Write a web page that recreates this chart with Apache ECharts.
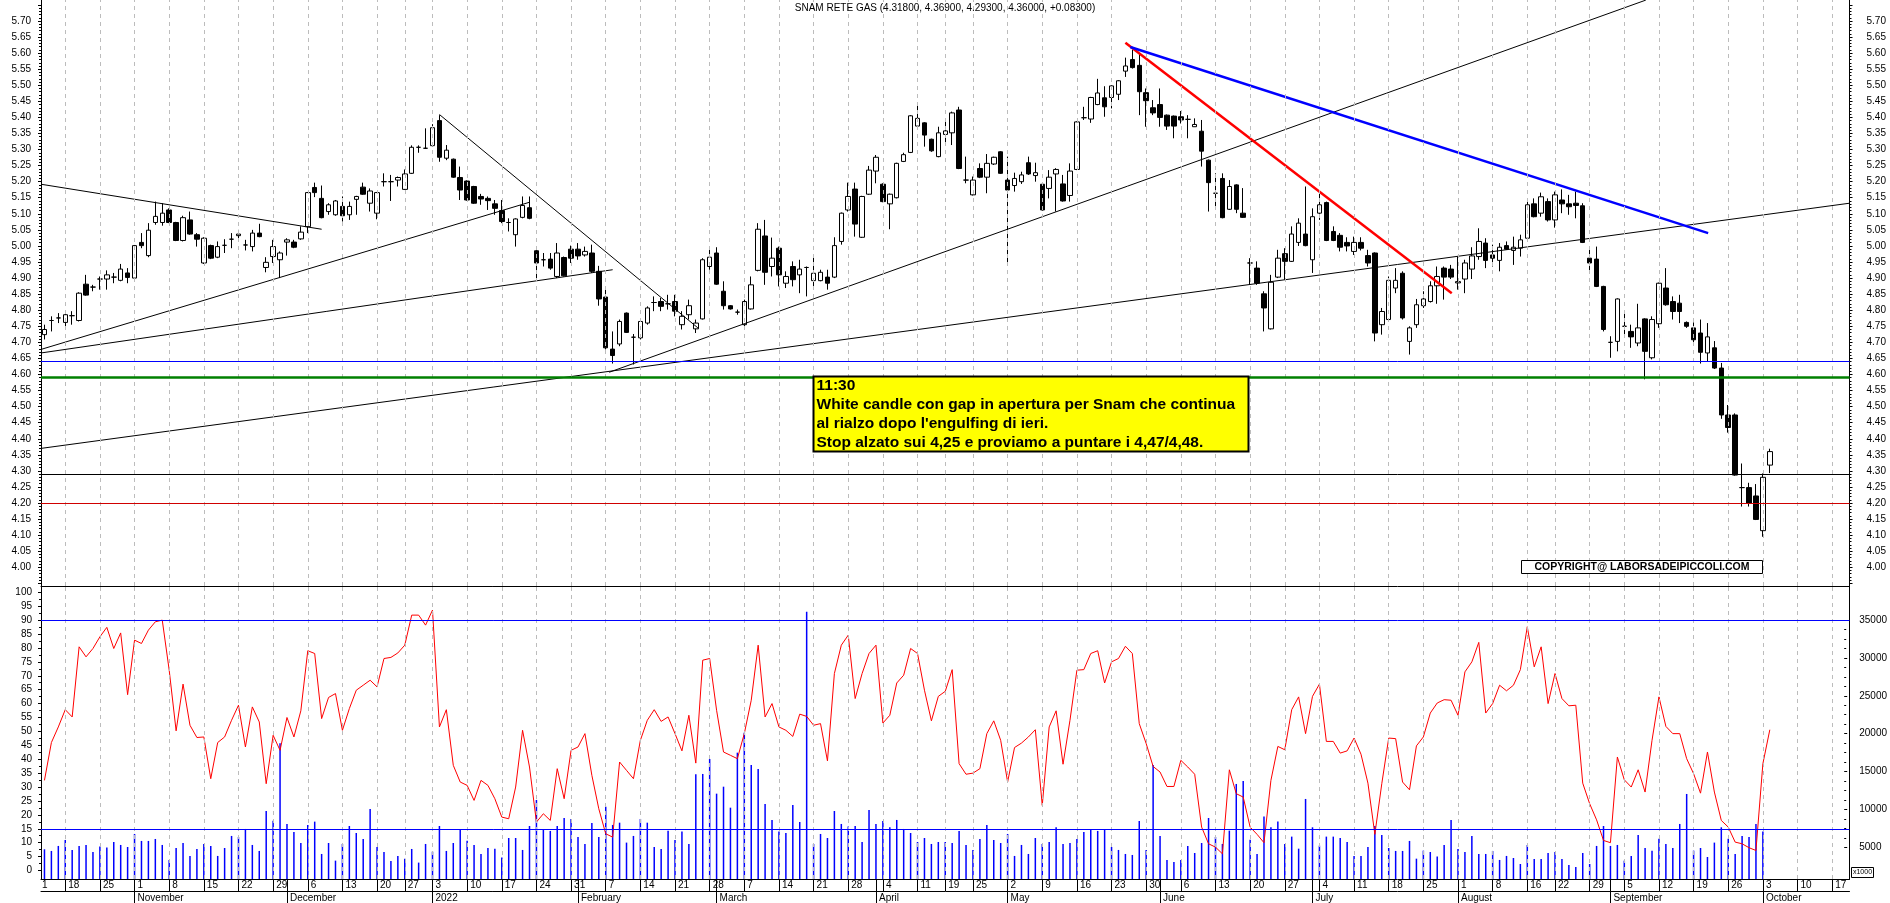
<!DOCTYPE html>
<html>
<head>
<meta charset="utf-8">
<script src="https://cdn.jsdelivr.net/npm/echarts@6.0.0/dist/echarts.min.js"></script>
<style>
html,body{margin:0;padding:0;background:#ffffff;}
#chart{width:1890px;height:903px;}
</style>
</head>
<body>
<div id="chart"></div>
<script>
// ================= DATA =================
const firstSession = '2021-10-13';
const marketHolidays = ['2021-12-24', '2021-12-31', '2022-04-15', '2022-04-18', '2022-08-15'];
const sessionCount = 250;
const blankSessions = 11;
const monthNames = ['January','February','March','April','May','June','July','August','September','October','November','December'];

const openP = [
4.724,4.768,4.776,4.762,4.783,4.768,4.881,4.872,4.897,4.897,
4.903,4.893,4.916,4.900,5.011,4.970,5.073,5.073,5.112,5.073,
5.017,5.081,5.035,4.947,5.001,4.965,5.002,5.021,5.032,5.003,
4.998,5.040,4.933,4.967,4.957,5.012,5.012,5.022,5.060,5.182,
5.148,5.107,5.097,5.123,5.097,5.145,5.183,5.133,5.102,5.200,
5.200,5.205,5.176,5.226,5.307,5.304,5.312,5.390,5.273,5.270,
5.213,5.202,5.185,5.154,5.148,5.131,5.110,5.073,5.035,5.089,
5.119,4.985,4.957,4.959,4.905,4.964,4.990,4.990,4.972,4.978,
4.921,4.841,4.679,4.695,4.791,4.716,4.714,4.760,4.824,4.827,
4.820,4.827,4.755,4.786,4.742,4.773,4.936,4.978,4.859,4.814,
4.794,4.755,4.804,4.924,5.031,4.936,4.993,4.884,4.936,4.910,
4.933,4.892,4.892,4.903,4.903,5.014,5.112,5.177,5.027,5.161,
5.233,5.192,5.131,5.150,5.263,5.291,5.373,5.383,5.332,5.278,
5.347,5.352,5.423,5.205,5.159,5.241,5.214,5.255,5.293,5.205,
5.188,5.200,5.259,5.219,5.192,5.179,5.224,5.193,5.157,5.238,
5.399,5.395,5.440,5.461,5.462,5.472,5.544,5.580,5.562,5.477,
5.430,5.440,5.407,5.404,5.402,5.394,5.371,5.357,5.267,5.164,
5.210,5.114,5.190,5.102,4.947,4.931,4.851,4.742,4.903,4.976,
4.952,5.011,5.037,4.957,5.102,5.135,5.045,5.033,5.011,4.983,
5.011,4.970,4.978,4.755,4.771,4.869,4.915,4.703,4.755,4.814,
4.827,4.876,4.931,4.928,4.885,4.897,4.928,4.967,5.009,4.972,
4.955,5.001,4.986,4.993,5.024,5.131,5.102,5.138,5.081,5.143,
5.131,5.133,5.125,4.962,4.959,4.874,4.700,4.703,4.750,4.734,
4.698,4.773,4.652,4.758,4.869,4.827,4.822,4.762,4.745,4.729,
4.667,4.683,4.620,4.474,4.474,4.248,4.248,4.222,4.114,4.318];

const closeP = [
4.740,4.768,4.776,4.786,4.783,4.853,4.847,4.872,4.897,4.910,
4.903,4.928,4.902,5.001,5.001,5.049,5.092,5.102,5.073,5.017,
5.088,5.037,5.021,5.024,4.962,4.998,5.002,5.021,5.037,5.003,
5.040,5.029,4.949,4.998,4.978,5.019,4.996,5.043,5.166,5.166,
5.088,5.128,5.140,5.094,5.123,5.154,5.161,5.171,5.166,5.200,
5.200,5.213,5.224,5.307,5.307,5.304,5.368,5.276,5.298,5.214,
5.174,5.143,5.133,5.146,5.141,5.117,5.076,5.073,5.084,5.126,
5.086,4.947,4.957,4.931,4.978,4.907,4.962,4.969,4.983,4.921,
4.835,4.683,4.659,4.765,4.731,4.716,4.765,4.807,4.824,4.812,
4.820,4.797,4.781,4.814,4.760,4.957,4.965,4.881,4.814,4.804,
4.794,4.827,4.879,5.052,4.918,4.962,4.910,4.905,4.895,4.928,
4.933,4.915,4.918,4.884,5.001,5.102,5.154,5.068,5.154,5.236,
5.276,5.138,5.161,5.257,5.284,5.405,5.397,5.345,5.296,5.352,
5.358,5.414,5.241,5.205,5.205,5.214,5.257,5.276,5.226,5.174,
5.210,5.221,5.224,5.228,5.112,5.214,5.238,5.140,5.233,5.386,
5.399,5.462,5.476,5.433,5.498,5.514,5.560,5.555,5.480,5.452,
5.414,5.400,5.373,5.373,5.392,5.394,5.378,5.295,5.197,5.164,
5.088,5.185,5.114,5.089,4.947,4.884,4.807,4.887,4.962,4.952,
5.037,5.071,5.001,5.091,5.128,5.017,5.017,4.996,5.000,5.011,
4.993,4.947,4.729,4.796,4.893,4.893,4.776,4.745,4.817,4.835,
4.876,4.905,4.903,4.903,4.889,4.947,4.969,5.014,4.955,4.962,
4.996,4.990,4.996,5.019,5.128,5.091,5.153,5.081,5.159,5.131,
5.122,5.126,5.011,4.947,4.874,4.740,4.700,4.835,4.750,4.717,
4.745,4.672,4.771,4.884,4.817,4.796,4.796,4.750,4.708,4.669,
4.717,4.620,4.474,4.435,4.287,4.248,4.199,4.149,4.280,4.360];

const lowP = [
4.709,4.734,4.760,4.750,4.755,4.765,4.845,4.859,4.864,4.864,
4.884,4.890,4.884,4.895,4.993,4.965,5.066,5.063,5.071,5.015,
5.014,5.035,4.998,4.944,4.959,4.962,4.978,4.993,5.019,4.986,
4.983,5.027,4.918,4.947,4.900,4.970,4.993,5.019,5.040,5.152,
5.086,5.097,5.094,5.076,5.081,5.097,5.159,5.107,5.083,5.185,
5.140,5.185,5.174,5.224,5.290,5.302,5.310,5.262,5.267,5.212,
5.143,5.141,5.131,5.128,5.112,5.097,5.071,5.045,4.998,5.086,
5.083,4.890,4.936,4.926,4.900,4.905,4.947,4.957,4.967,4.916,
4.814,4.678,4.634,4.688,4.729,4.631,4.709,4.755,4.797,4.797,
4.802,4.781,4.740,4.771,4.729,4.771,4.926,4.879,4.802,4.802,
4.786,4.750,4.802,4.921,4.879,4.905,4.874,4.869,4.874,4.853,
4.843,4.874,4.890,4.864,4.900,5.004,5.107,5.029,5.025,5.159,
5.195,5.136,5.052,5.148,5.261,5.289,5.371,5.309,5.293,5.276,
5.314,5.314,5.239,5.195,5.157,5.211,5.164,5.252,5.224,4.950,
5.169,5.193,5.221,5.200,5.110,5.148,5.107,5.138,5.138,5.236,
5.392,5.383,5.438,5.402,5.428,5.454,5.526,5.552,5.407,5.371,
5.407,5.371,5.361,5.335,5.381,5.335,5.371,5.247,5.107,5.112,
5.086,5.112,5.102,5.087,4.879,4.879,4.734,4.740,4.900,4.895,
4.950,5.000,4.999,4.916,5.081,5.015,5.015,4.983,4.983,4.972,
4.986,4.936,4.703,4.724,4.769,4.853,4.771,4.662,4.745,4.807,
4.824,4.820,4.833,4.897,4.864,4.853,4.897,4.957,4.931,4.936,
4.921,4.988,4.941,4.967,5.022,5.089,5.091,5.076,5.057,5.102,
5.097,5.086,5.009,4.924,4.872,4.734,4.652,4.672,4.724,4.683,
4.688,4.585,4.647,4.745,4.814,4.771,4.760,4.745,4.693,4.634,
4.641,4.617,4.462,4.419,4.285,4.189,4.189,4.147,4.095,4.293];

const highP = [
4.755,4.781,4.791,4.800,4.797,4.856,4.910,4.879,4.905,4.924,
4.916,4.944,4.931,5.003,5.040,5.071,5.138,5.133,5.117,5.075,
5.094,5.107,5.040,5.027,5.004,5.014,5.021,5.040,5.050,5.019,
5.050,5.069,4.965,5.019,4.983,5.024,5.019,5.061,5.168,5.197,
5.188,5.133,5.143,5.154,5.138,5.156,5.197,5.179,5.168,5.226,
5.221,5.216,5.238,5.313,5.313,5.366,5.379,5.407,5.314,5.272,
5.247,5.204,5.187,5.162,5.154,5.143,5.143,5.086,5.086,5.154,
5.154,4.998,4.978,4.978,5.009,4.967,5.001,5.009,4.998,5.004,
4.938,4.869,4.734,4.771,4.793,4.726,4.771,4.812,4.843,4.838,
4.848,4.848,4.797,4.833,4.771,4.962,4.993,4.996,4.890,4.816,
4.802,4.833,4.905,5.071,5.081,5.026,4.998,4.921,4.952,4.957,
4.936,4.973,4.926,4.926,5.027,5.104,5.197,5.197,5.156,5.249,
5.283,5.195,5.163,5.259,5.290,5.407,5.441,5.385,5.334,5.371,
5.392,5.418,5.433,5.278,5.216,5.257,5.286,5.278,5.295,5.278,
5.228,5.231,5.278,5.259,5.194,5.236,5.242,5.221,5.257,5.388,
5.433,5.464,5.520,5.497,5.500,5.516,5.586,5.611,5.599,5.490,
5.454,5.490,5.409,5.406,5.420,5.407,5.397,5.392,5.269,5.226,
5.226,5.205,5.192,5.180,4.962,4.952,4.859,4.910,4.988,4.993,
5.061,5.086,5.185,5.117,5.169,5.138,5.061,5.040,5.027,5.029,
5.027,4.988,4.980,4.807,4.905,4.931,4.921,4.750,4.835,4.859,
4.890,4.936,4.936,4.941,4.967,4.957,4.996,5.055,5.024,5.004,
5.009,5.014,5.029,5.035,5.138,5.148,5.166,5.148,5.169,5.176,
5.159,5.169,5.133,4.993,4.998,4.876,4.719,4.837,4.791,4.755,
4.820,4.775,4.781,4.886,4.931,4.843,4.848,4.765,4.762,4.771,
4.760,4.704,4.636,4.505,4.479,4.323,4.263,4.259,4.292,4.369];

const oscillator = [
32.4,46,51.6,57.8,55.2,80.4,76.8,79.8,84,87.4,
79.8,85.4,63.2,82.8,81.6,86.4,89.4,90,72,50.2,
67,52.2,47.8,48,33,46,48,54,59.4,44.4,
58.8,53.4,31.2,48.6,43.2,55,48,57.4,79,78,
54.6,62.2,63.6,50.4,58.2,64.8,66.6,68.4,66,76.2,
76.6,78.2,81,91.8,91.8,88.2,93.6,51.6,57.8,37.8,
31.8,30.6,25.2,32.4,30.6,25.8,19.2,18.6,30,50.4,
37.2,17.4,20.4,18,36.6,25.8,43.2,44.4,49.2,34.2,
22.2,13.2,12,39,36,33,46.8,54,57.8,53.6,
55.2,49.2,43,55.8,38.6,75.6,76.2,57.6,42.6,41.4,
40.2,49.2,61.2,81,55.2,60,51.6,50.4,48.2,56.2,
55.4,52.2,52.8,39.4,70.8,81,84.6,61.8,70.8,78,
81,53,55.8,67.4,70.2,79.8,78,64.8,53.8,62.6,
64.4,72.2,38.4,34.6,35,36.6,49.2,53.8,46.8,31.8,
44.2,45.8,48,50.6,23.4,51.6,57.4,38.2,54,72,
72.2,78,79,67.4,75,76.2,80.6,78,52.8,45.6,
37.4,35.4,30.2,30.2,39.6,37.2,34.6,15.6,9.6,8.4,
6,36.2,27.6,26.4,15.6,13,10,32.4,44.6,43.4,
57.8,62.4,49.2,62.6,67,46.4,46.4,42.2,43,47.6,
41.8,31.4,13,31.2,47.6,47.4,31.8,29,44.8,48,
56.6,60.2,61.4,61.2,55.8,71.4,75,82,56.6,60,
66.6,64.6,66.6,72.2,87.6,73.2,80.4,60,70.8,61.8,
59.2,59.4,31.4,24,18.2,10.8,10,40.8,32.6,30,
36.2,28.2,46.8,62.4,51.8,49.2,49.2,40.2,34.8,27.8,
42.6,28.2,18,15.6,10.2,9.6,8.2,7.2,38.4,50.6];

const volume = [
4740,4520,5180,5970,4650,5180,5310,4380,5090,4960,
5700,5310,5040,6760,5840,5840,6100,5310,3330,4910,
5570,3860,4780,5440,5180,3860,4910,6500,6360,7420,
5310,4520,9790,8520,18720,8080,7020,5570,7950,8390,
4120,5570,3240,5440,7810,6890,6100,10060,5040,4380,
3200,3860,3500,4780,2980,5440,4420,7810,4520,5570,
7290,5880,5310,4120,4910,4820,3640,6230,6230,4650,
7810,11250,7290,7160,7810,8870,8730,6360,5440,8210,
6360,10360,7950,8250,5620,6500,8740,8250,5040,4780,
7200,5970,7070,5440,14630,14680,16650,12080,13000,10230,
17490,20130,15860,15340,10720,8610,7070,6890,10590,8340,
36090,5440,6760,6230,9790,8080,7730,7810,5700,9930,
8080,8470,7640,8610,7420,6890,5700,6230,5440,5700,
5700,5570,7160,5310,4650,6100,7950,5970,5570,6760,
3860,5310,4120,6230,5440,5700,7640,5440,5570,6100,
7020,7290,7160,7290,5040,4650,4120,3990,8470,4650,
15860,6500,3330,3060,3330,5180,4250,5570,8870,6360,
5440,7200,13360,13750,6010,4120,9050,7640,8390,5440,
6410,4820,11380,7640,5220,6410,6410,6230,5700,3860,
3860,5040,7810,6630,4910,4520,4520,5840,3500,4560,
4380,3770,5310,8610,4780,4380,6500,4120,4120,4520,
3330,3860,3590,2800,5310,3460,3460,4250,4380,3460,
2670,2400,4250,2800,5180,7810,5180,5310,3240,3860,
6630,4910,4560,6140,5440,4910,8080,12040,4560,4910,
3720,5620,7640,6140,4120,6500,6360,8080,7070,null];

// trend lines drawn on the chart: [session0, price0, session1, price1]
const trendLines = [
  [-0.5, 5.192, 40, 5.052],
  [-0.5, 4.678, 70, 5.136],
  [-0.5, 4.667, 82, 4.926],
  [57, 5.409, 94.3, 4.745],
  [81.5, 4.607, 231.1, 5.765],
  [-0.5, 4.370, 260.5, 5.133],
  [156, 5.632, 203.1, 4.853],
  [156.7, 5.619, 240.1, 5.040]
];
const priceLevels = [4.637, 4.59, 4.289, 4.199];
const oscillatorLevels = [90, 15];
const priceTickValues = {min: 3.95, max: 5.75, step: 0.05};
const oscTickValues = {min: 0, max: 100, step: 5};
const volTickValues = {min: 5000, max: 35000, step: 5000};

const titleText = 'SNAM RETE GAS (4.31800, 4.36900, 4.29300, 4.36000, +0.08300)';
const noteLines = [
  '11:30',
  'White candle con gap in apertura per Snam che continua',
  "al rialzo dopo l'engulfing di ieri.",
  'Stop alzato sui 4,25 e proviamo a puntare i 4,47/4,48.'
];
const copyrightText = 'COPYRIGHT@ LABORSADEIPICCOLI.COM';
const volumeUnitText = 'x1000';
const clippedFirstDayLabel = '1';

// ================= STYLES / LAYOUT =================
const trendStyles = [
  {color:'#000000', width:1}, {color:'#000000', width:1}, {color:'#000000', width:1},
  {color:'#000000', width:1}, {color:'#000000', width:1}, {color:'#000000', width:1},
  {color:'#ff0000', width:2.5}, {color:'#0000ff', width:2.5}
];
const levelStyles = [
  {color:'#0000ff', width:1}, {color:'#008000', width:2.5},
  {color:'#000000', width:1}, {color:'#d00000', width:1}
];
const FONT = '"Liberation Sans", Arial, Helvetica, sans-serif';
const GL = 41, GR = 40.5;
// price scale: 5.70 at y=21, 321.35 px per unit
const yPrice = p => 21 + (5.70 - p) * 321.35;
const priceAt = y => 5.70 - (y - 21) / 321.35;
const oscAt = y => (870.5 - y) / 2.782;
const volAt = y => 5000 + (847.3 - y) / 7.577 * 1000;
const P_TOP = 0, P_BOT = 586, O_TOP = 586, O_BOT = 879;

// ================= CALENDAR =================
function buildSessions() {
  const out = [];
  const d = new Date(firstSession + 'T00:00:00Z');
  while (out.length < sessionCount + blankSessions) {
    const s = d.toISOString().slice(0, 10);
    const dw = d.getUTCDay();
    if (dw !== 0 && dw !== 6 && marketHolidays.indexOf(s) < 0) out.push(s);
    d.setUTCDate(d.getUTCDate() + 1);
  }
  return out;
}
const dates = buildSessions();
const N = dates.length;
const dow = s => new Date(s + 'T00:00:00Z').getUTCDay();
const weekStart = dates.map((s, i) => i > 0 && dow(s) < dow(dates[i - 1]));
const monthStart = dates.map((s, i) => i > 0 && s.slice(5, 7) !== dates[i - 1].slice(5, 7));
const weekIdx = [];
weekStart.forEach((w, i) => { if (w) weekIdx.push(i); });

const candles = openP.map((o, i) => [o, closeP[i], lowP[i], highP[i]]);

// ================= OPTION =================
const axisBlack = {color:'#000000', width:1};
function frameY(grid, pos, min, max) {
  return {type:'value', gridIndex:grid, position:pos, min:min, max:max,
    axisLine:{show:true, onZero:false, lineStyle:axisBlack},
    axisTick:{show:false}, axisLabel:{show:false}, splitLine:{show:false}};
}
function labelY(grid, pos, spec, margin, minorSplit, fmt) {
  return {type:'value', gridIndex:grid, position:pos, min:spec.min, max:spec.max, interval:spec.step,
    axisLine:{show:false, onZero:false},
    axisTick:{show:true, length:3, lineStyle:axisBlack},
    minorTick:{show:true, splitNumber:minorSplit, length:2, lineStyle:axisBlack},
    axisLabel:{show:true, margin:margin, fontSize:10, color:'#000000', fontFamily:FONT, formatter:fmt},
    splitLine:{show:false}, minorSplitLine:{show:false}};
}
const priceFmt = v => (v < 3.999 || v > 5.701) ? '' : v.toFixed(2);

const grids = [
  {left:GL, right:GR, top:P_TOP, height:P_BOT - P_TOP},
  {left:GL, right:GR, top:O_TOP, height:O_BOT - O_TOP},
  {left:GL, right:GR, top:yPrice(priceTickValues.max), height:yPrice(priceTickValues.min) - yPrice(priceTickValues.max)},
  {left:GL, right:GR, top:592.3, height:870.5 - 592.3},
  {left:GL, right:GR, top:620, height:847.3 - 620}
];

const xAxes = [
  {type:'category', gridIndex:0, data:dates, show:false, boundaryGap:true},
  {type:'value', gridIndex:0, min:-0.5, max:N - 0.5, show:false},
  {type:'category', gridIndex:1, data:dates, position:'bottom', boundaryGap:true,
    axisLine:{show:true, onZero:false, lineStyle:axisBlack},
    axisTick:{show:true, alignWithLabel:true, length:12, lineStyle:axisBlack,
      interval:(i) => weekStart[i] || monthStart[i]},
    axisLabel:{show:true, interval:(i) => weekStart[i], formatter:(v) => String(parseInt(v.slice(8), 10)),
      align:'left', padding:[0,0,0,3], margin:1, fontSize:10, color:'#000000', fontFamily:FONT},
    splitLine:{show:false}},
  {type:'value', gridIndex:1, min:-0.5, max:N - 0.5, show:false},
  {type:'category', gridIndex:1, data:dates, position:'bottom', offset:12, boundaryGap:true,
    axisLine:{show:true, onZero:false, lineStyle:axisBlack},
    axisTick:{show:true, alignWithLabel:true, length:12, lineStyle:axisBlack, interval:(i) => monthStart[i]},
    axisLabel:{show:true, interval:(i) => monthStart[i],
      formatter:(v) => { const m = parseInt(v.slice(5, 7), 10) - 1; return m === 0 ? v.slice(0, 4) : monthNames[m]; },
      align:'left', padding:[0,0,0,3], margin:2, fontSize:10, color:'#000000', fontFamily:FONT},
    splitLine:{show:false}},
  {type:'category', gridIndex:1, data:dates, position:'top', boundaryGap:true,
    axisLine:{show:true, onZero:false, lineStyle:axisBlack}, axisTick:{show:false}, axisLabel:{show:false}},
  {type:'value', gridIndex:2, min:0, max:1, show:false},
  {type:'value', gridIndex:3, min:0, max:1, show:false},
  {type:'value', gridIndex:4, min:0, max:1, show:false}
];

const yAxes = [
  frameY(0, 'left', priceAt(P_BOT), priceAt(P_TOP)),
  frameY(0, 'right', priceAt(P_BOT), priceAt(P_TOP)),
  frameY(1, 'left', oscAt(O_BOT), oscAt(O_TOP)),
  frameY(1, 'right', volAt(O_BOT), volAt(O_TOP)),
  labelY(2, 'left', priceTickValues, 10, 5, priceFmt),
  labelY(2, 'right', priceTickValues, 17, 5, priceFmt),
  labelY(3, 'left', oscTickValues, 9, 2, (v) => String(v)),
  labelY(4, 'right', volTickValues, 15, 4, (v) => String(v))
];

const dashed = {color:'#bcbcbc', type:[4, 4], width:1};
const series = [];
// weekly dashed guides
series.push({type:'line', name:'weeksTop', xAxisIndex:1, yAxisIndex:0, data:[], z:1, silent:true,
  markLine:{silent:true, symbol:['none','none'], animation:false, label:{show:false}, lineStyle:dashed,
    data:weekIdx.map(i => ({xAxis:i}))}});
series.push({type:'line', name:'weeksBottom', xAxisIndex:3, yAxisIndex:2, data:[], z:1, silent:true,
  markLine:{silent:true, symbol:['none','none'], animation:false, label:{show:false}, lineStyle:dashed,
    data:weekIdx.map(i => ({xAxis:i}))}});
// horizontal price levels
series.push({type:'line', name:'levels', xAxisIndex:1, yAxisIndex:0, data:[], z:2, silent:true,
  markLine:{silent:true, symbol:['none','none'], animation:false, label:{show:false},
    data:priceLevels.map((v, k) => ({yAxis:v, lineStyle:{color:levelStyles[k].color, width:levelStyles[k].width, type:'solid'}}))}});
// candles
series.push({type:'candlestick', name:'SNAM', xAxisIndex:0, yAxisIndex:0, data:candles, barWidth:5, z:3,
  itemStyle:{color:'#ffffff', color0:'#000000', borderColor:'#000000', borderColor0:'#000000', borderColorDoji:'#000000', borderWidth:1}});
// trend lines
trendLines.forEach((t, k) => {
  series.push({type:'line', name:'trend' + k, xAxisIndex:1, yAxisIndex:0, z:4, silent:true,
    data:[[t[0], t[1]], [t[2], t[3]]], showSymbol:false, symbol:'none', clip:false,
    lineStyle:{color:trendStyles[k].color, width:trendStyles[k].width}});
});
// volume
series.push({type:'bar', name:'volume', xAxisIndex:2, yAxisIndex:3, data:volume, barWidth:1.5, z:2,
  itemStyle:{color:'#0000ff'}, silent:true});
// oscillator
series.push({type:'line', name:'osc', xAxisIndex:2, yAxisIndex:2, data:oscillator, z:3, silent:true,
  showSymbol:false, symbol:'none', lineStyle:{color:'#ff0000', width:1},
  markLine:{silent:true, symbol:['none','none'], animation:false, label:{show:false},
    lineStyle:{color:'#0000ff', width:1, type:'solid'},
    data:oscillatorLevels.map(v => ({yAxis:v}))}});

const graphics = [
  {type:'text', left:'center', top:3, z:10,
    style:{text:titleText, fontSize:10, fontFamily:FONT, fill:'#000000'}},
  {type:'rect', shape:{x:813.5, y:376.5, width:435, height:75}, z:10,
    style:{fill:'#ffff00', stroke:'#000000', lineWidth:2}},
  {type:'text', x:816.5, y:376.5, z:11,
    style:{text:noteLines.join('\n'), fontSize:15.5, fontWeight:'bold', lineHeight:18.8, fontFamily:FONT, fill:'#000000'}},
  {type:'rect', shape:{x:1521.5, y:560.5, width:241, height:13}, z:10,
    style:{fill:'#ffffff', stroke:'#000000', lineWidth:1}},
  {type:'text', x:1642, y:567.5, z:11,
    style:{text:copyrightText, fontSize:10.5, fontWeight:'bold', fontFamily:FONT, fill:'#000000', align:'center', verticalAlign:'middle'}},
  {type:'rect', shape:{x:1851.5, y:867.5, width:22, height:10}, z:10,
    style:{fill:'#ffffff', stroke:'#000000', lineWidth:1}},
  {type:'text', x:1862.5, y:872.5, z:11,
    style:{text:volumeUnitText, fontSize:7, fontFamily:FONT, fill:'#000000', align:'center', verticalAlign:'middle'}},
  {type:'text', x:42, y:880.5, z:11,
    style:{text:clippedFirstDayLabel, fontSize:10, fontFamily:FONT, fill:'#000000'}}
];

const chart = echarts.init(document.getElementById('chart'), null, {renderer:'canvas'});
chart.setOption({
  animation:false,
  backgroundColor:'#ffffff',
  textStyle:{fontFamily:FONT},
  grid:grids,
  xAxis:xAxes,
  yAxis:yAxes,
  series:series,
  graphic:graphics
});
</script>
</body>
</html>
